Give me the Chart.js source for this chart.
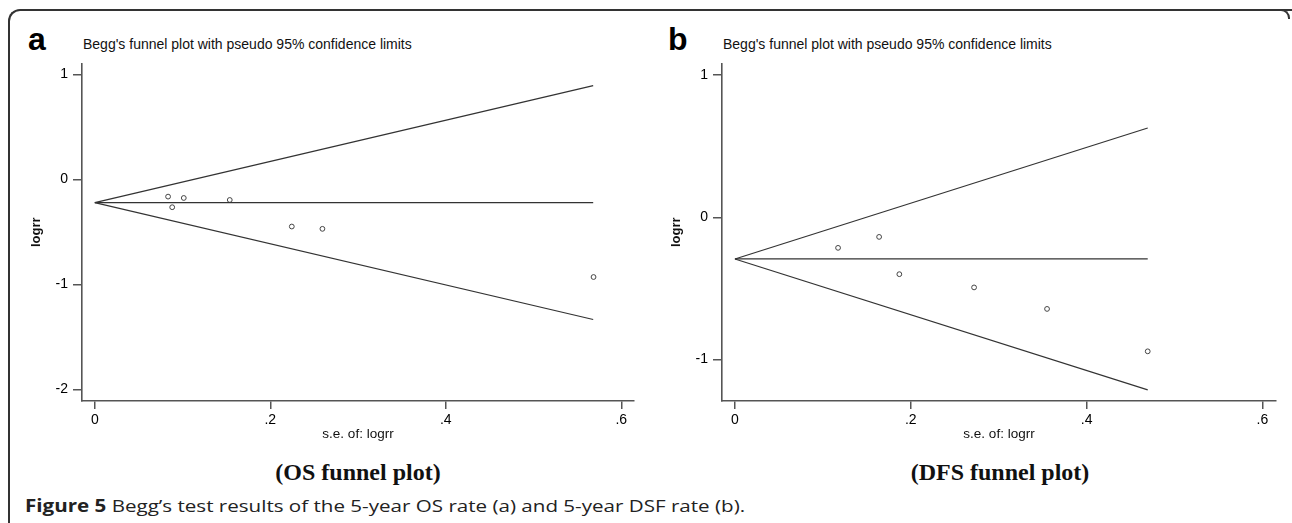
<!DOCTYPE html>
<html>
<head>
<meta charset="utf-8">
<script src="https://cdn.jsdelivr.net/npm/chart.js@4.4.1/dist/chart.umd.min.js"></script>
<style>
  body { margin: 0; background: #fff; width: 1292px; height: 523px; overflow: hidden; position: relative; }
  .frame { position: absolute; left: 8px; top: 9px; width: 1300px; height: 600px; border-top: 2px solid #333; border-left: 2px solid #333; border-top-left-radius: 12px; }
  .corner { position: absolute; left: 1272px; top: 9px; width: 16px; height: 8px; border-top: 2px solid #333; border-right: 2px solid #333; border-top-right-radius: 9px; }
  .panel-letter { position: absolute; font: bold 32px 'Liberation Sans', Arial, sans-serif; line-height: 1; color: #000; }
  .plot-title { position: absolute; font: 14px 'Liberation Sans', Arial, sans-serif; line-height: 1; color: #111; white-space: nowrap; }
  .sub-caption { position: absolute; font: bold 24px 'Liberation Serif', 'Times New Roman', serif; line-height: 1; color: #111; white-space: nowrap; transform: translateX(-50%); }
  .caption { position: absolute; left: 25px; top: 497px; font: 17px 'Open Sans', sans-serif; line-height: 1; color: #222; white-space: nowrap; transform: scaleX(1.21); transform-origin: 0 0; }
  canvas { position: absolute; }
</style>
</head>
<body>
<div class="frame"></div>
<div class="corner"></div>

<div class="panel-letter" style="left:28px; top:23px;">a</div>
<div class="plot-title" style="left:83px; top:37px;">Begg's funnel plot with pseudo 95% confidence limits</div>
<div class="panel-letter" style="left:668px; top:23px;">b</div>
<div class="plot-title" style="left:723px; top:37px;">Begg's funnel plot with pseudo 95% confidence limits</div>

<canvas id="chartA" width="650" height="392" style="left:0px; top:50px;"></canvas>
<canvas id="chartB" width="652" height="392" style="left:640px; top:50px;"></canvas>

<div class="sub-caption" style="left:358px; top:460px;">(OS funnel plot)</div>
<div class="sub-caption" style="left:1000px; top:460px;">(DFS funnel plot)</div>

<div class="caption"><b>Figure 5</b> Begg’s test results of the 5-year OS rate (a) and 5-year DSF rate (b).</div>

<script>
// panel a: OS
const seA = [0.0835, 0.0882, 0.1014, 0.1538, 0.2245, 0.2594, 0.5684];
const logrrA = [-0.163, -0.264, -0.176, -0.195, -0.448, -0.470, -0.929];
const funnelSeA = [0, 0.568];
const pooledA = [-0.220, -0.220];
const upperA = [-0.220, 0.894];
const lowerA = [-0.220, -1.334];
const yTicksA = [-2, -1, 0, 1];

// panel b: DFS
const seB = [0.1173, 0.164, 0.187, 0.272, 0.355, 0.4695];
const logrrB = [-0.215, -0.138, -0.400, -0.493, -0.644, -0.942];
const funnelSeB = [0, 0.4695];
const pooledB = [-0.293, -0.293];
const upperB = [-0.293, 0.627];
const lowerB = [-0.293, -1.213];
const yTicksB = [-1, 0, 1];

const xTicks = [0, 0.2, 0.4, 0.6];

const axisColor = '#555';
const lineColor = '#333';
const tickFont = { family: "'Liberation Sans', Arial, sans-serif", size: 14 };

function toPoints(xs, ys) {
    return xs.map(function(x, i) { return { x: x, y: ys[i] }; });
}

function lineDataset(xs, ys) {
    return {
        type: 'line',
        data: toPoints(xs, ys),
        borderColor: lineColor,
        borderWidth: 1.2,
        pointRadius: 0,
        fill: false,
        tension: 0
    };
}

function funnelChart(canvasId, se, logrr, funnelSe, pooled, upper, lower, yTicks, yMin, yMax, xMin, xMax, rightPad) {
    const ctx = document.getElementById(canvasId).getContext('2d');
    return new Chart(ctx, {
        type: 'scatter',
        data: {
            datasets: [
                lineDataset(funnelSe, upper),
                lineDataset(funnelSe, pooled),
                lineDataset(funnelSe, lower),
                {
                    type: 'scatter',
                    data: toPoints(se, logrr),
                    pointStyle: 'circle',
                    pointRadius: 2.4,
                    borderWidth: 1,
                    borderColor: '#444',
                    backgroundColor: '#fff'
                }
            ]
        },
        options: {
            responsive: false,
            animation: false,
            events: [],
            layout: { padding: { left: 29, top: 12, right: rightPad, bottom: 0 } },
            plugins: { legend: { display: false }, tooltip: { enabled: false } },
            scales: {
                x: {
                    type: 'linear',
                    min: xMin,
                    max: xMax,
                    afterFit: function(scale) { scale.height = 41; },
                    afterBuildTicks: function(scale) {
                        scale.ticks = xTicks.map(function(v) { return { value: v }; });
                    },
                    grid: { drawOnChartArea: false, drawTicks: true, tickLength: 8, color: axisColor, lineWidth: 1.5 },
                    border: { display: true, color: axisColor, width: 1.6 },
                    ticks: {
                        color: '#000',
                        font: tickFont,
                        padding: 3,
                        maxRotation: 0,
                        autoSkip: false,
                        callback: function(v) { return v === 0 ? '0' : String(v).replace('0.', '.'); }
                    },
                    title: {
                        display: true,
                        text: 's.e. of: logrr',
                        color: '#111',
                        font: { family: "'Liberation Sans', Arial, sans-serif", size: 13.5 },
                        padding: 0
                    }
                },
                y: {
                    type: 'linear',
                    min: yMin,
                    max: yMax,
                    afterFit: function(scale) { scale.width = 53; },
                    afterBuildTicks: function(scale) {
                        scale.ticks = yTicks.map(function(v) { return { value: v }; });
                    },
                    grid: { drawOnChartArea: false, drawTicks: true, tickLength: 9, color: axisColor, lineWidth: 1.5 },
                    border: { display: true, color: axisColor, width: 1.6 },
                    ticks: {
                        color: '#000',
                        font: tickFont,
                        padding: 5,
                        autoSkip: false,
                        callback: function(v) { return String(v); }
                    },
                    title: {
                        display: true,
                        text: 'logrr',
                        color: '#111',
                        font: { family: "'Liberation Sans', Arial, sans-serif", size: 13, weight: 'bold' },
                        padding: 0
                    }
                }
            }
        }
    });
}

funnelChart('chartA', seA, logrrA, funnelSeA, pooledA, upperA, lowerA, yTicksA, -2.11, 1.106, -0.0146, 0.6145, 16);
funnelChart('chartB', seB, logrrB, funnelSeB, pooledB, upperB, lowerB, yTicksB, -1.291, 1.081, -0.0147, 0.6154, 16);
</script>
</body>
</html>
